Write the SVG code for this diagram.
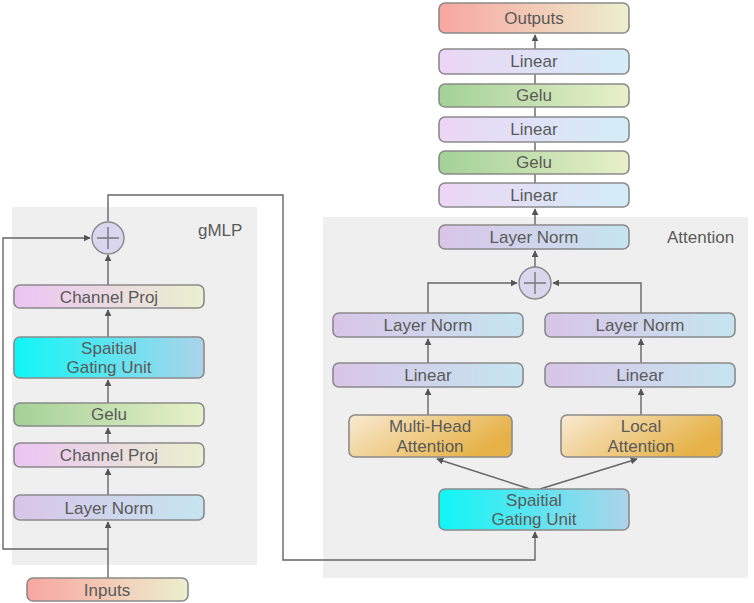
<svg xmlns="http://www.w3.org/2000/svg" width="754" height="603" viewBox="0 0 754 603">
<defs>
<linearGradient id="gCP" x1="0" y1="0" x2="1" y2="0"><stop offset="0" stop-color="#ebc4f3"/><stop offset="1" stop-color="#eaf0cf"/></linearGradient>
<linearGradient id="gGelu" x1="0" y1="0" x2="1" y2="0"><stop offset="0" stop-color="#a3d197"/><stop offset="1" stop-color="#e8f0c9"/></linearGradient>
<linearGradient id="gLN" x1="0" y1="0" x2="1" y2="0"><stop offset="0" stop-color="#d9c5e7"/><stop offset="1" stop-color="#c5e5f0"/></linearGradient>
<linearGradient id="gLin" x1="0" y1="0" x2="1" y2="0"><stop offset="0" stop-color="#ecd6f5"/><stop offset="1" stop-color="#d3edf8"/></linearGradient>
<linearGradient id="gSGU" x1="0" y1="0" x2="1" y2="0"><stop offset="0" stop-color="#0ff6f6"/><stop offset="1" stop-color="#acd3ea"/></linearGradient>
<linearGradient id="gIO" x1="0" y1="0" x2="1" y2="0"><stop offset="0" stop-color="#f8a6a0"/><stop offset="1" stop-color="#ecefcd"/></linearGradient>
<linearGradient id="gAtt" x1="0" y1="0" x2="1" y2="0.4"><stop offset="0" stop-color="#f9ead2"/><stop offset="1" stop-color="#e6b247"/></linearGradient>
<marker id="arr" viewBox="0 0 10 10" refX="9" refY="5" markerWidth="7" markerHeight="7" orient="auto-start-reverse" markerUnits="userSpaceOnUse"><path d="M0,0 L10,5 L0,10 z" fill="#555"/></marker>
</defs>
<style>
.panel{fill:#efefef;}
.box{stroke:#8a8a8a;stroke-width:1.6;}
.t{font-family:"Liberation Sans",Arial,sans-serif;font-size:17px;fill:#5a5a5a;text-anchor:middle;}
.lbl{font-family:"Liberation Sans",Arial,sans-serif;font-size:17px;fill:#5a5a5a;}
.c{fill:none;stroke:#666;stroke-width:1.4;}
.sum{fill:#d9d6ee;stroke:#888;stroke-width:1.4;}
.plus{stroke:#777;stroke-width:1.4;fill:none;}
</style>
<rect class="panel" x="12" y="207" width="245" height="358"/>
<rect class="panel" x="323" y="217" width="425" height="361"/>
<text class="lbl" x="198" y="236">gMLP</text>
<text class="lbl" x="667" y="243">Attention</text>

<g id="connectors">
<path class="c" d="M108,578 V522" marker-end="url(#arr)"/>
<path class="c" d="M108,495 V469" marker-end="url(#arr)"/>
<path class="c" d="M108,443 V428" marker-end="url(#arr)"/>
<path class="c" d="M108,403 V380" marker-end="url(#arr)"/>
<path class="c" d="M108,337 V310" marker-end="url(#arr)"/>
<path class="c" d="M108,285 V255" marker-end="url(#arr)"/>
<path class="c" d="M108,549 H3 V238 H90" marker-end="url(#arr)"/>
<path class="c" d="M108,221 V195 H283 V560 H535 V532" marker-end="url(#arr)"/>
<path class="c" d="M530,489 L437,459" marker-end="url(#arr)"/>
<path class="c" d="M540,489 L637,459" marker-end="url(#arr)"/>
<path class="c" d="M428,415 V389" marker-end="url(#arr)"/>
<path class="c" d="M641,415 V389" marker-end="url(#arr)"/>
<path class="c" d="M428,363 V339" marker-end="url(#arr)"/>
<path class="c" d="M641,363 V339" marker-end="url(#arr)"/>
<path class="c" d="M428,313 V283 H517" marker-end="url(#arr)"/>
<path class="c" d="M641,313 V283 H553" marker-end="url(#arr)"/>
<path class="c" d="M535,267 V251" marker-end="url(#arr)"/>
<path class="c" d="M535,226 V209" marker-end="url(#arr)"/>
<path class="c" d="M535,183 V174"/>
<path class="c" d="M535,151 V142"/>
<path class="c" d="M535,117 V107"/>
<path class="c" d="M535,84 V74"/>
<path class="c" d="M535,49 V35" marker-end="url(#arr)"/>
</g>

<g id="inputs"><rect class="box" x="27" y="578" width="161" height="23" rx="6" fill="url(#gIO)"/><text class="t" x="107" y="596">Inputs</text></g>
<g id="gmlp-layernorm"><rect class="box" x="14" y="495" width="190" height="25" rx="6" fill="url(#gLN)"/><text class="t" x="109" y="514">Layer Norm</text></g>
<g id="gmlp-channelproj1"><rect class="box" x="14" y="443" width="190" height="24" rx="6" fill="url(#gCP)"/><text class="t" x="109" y="461">Channel Proj</text></g>
<g id="gmlp-gelu"><rect class="box" x="14" y="403" width="190" height="23" rx="6" fill="url(#gGelu)"/><text class="t" x="109" y="420">Gelu</text></g>
<g id="gmlp-sgu"><rect class="box" x="14" y="337" width="190" height="41" rx="6" fill="url(#gSGU)"/><text class="t" x="109" y="354">Spaitial</text><text class="t" x="109" y="373">Gating Unit</text></g>
<g id="gmlp-channelproj2"><rect class="box" x="14" y="285" width="190" height="23" rx="6" fill="url(#gCP)"/><text class="t" x="109" y="303">Channel Proj</text></g>
<g id="gmlp-sum"><circle class="sum" cx="108" cy="238" r="16"/><path class="plus" d="M97,238 H119 M108,227 V249"/></g>

<g id="att-sgu"><rect class="box" x="439" y="489" width="190" height="41" rx="6" fill="url(#gSGU)"/><text class="t" x="534" y="506">Spaitial</text><text class="t" x="534" y="525">Gating Unit</text></g>
<g id="att-mha"><rect class="box" x="349" y="415" width="163" height="42" rx="6" fill="url(#gAtt)"/><text class="t" x="430" y="432">Multi-Head</text><text class="t" x="430" y="452">Attention</text></g>
<g id="att-local"><rect class="box" x="561" y="415" width="161" height="42" rx="6" fill="url(#gAtt)"/><text class="t" x="641" y="432">Local</text><text class="t" x="641" y="452">Attention</text></g>
<g id="att-linear-l"><rect class="box" x="333" y="363" width="190" height="24" rx="6" fill="url(#gLN)"/><text class="t" x="428" y="381">Linear</text></g>
<g id="att-linear-r"><rect class="box" x="545" y="363" width="190" height="24" rx="6" fill="url(#gLN)"/><text class="t" x="640" y="381">Linear</text></g>
<g id="att-ln-l"><rect class="box" x="333" y="313" width="190" height="24" rx="6" fill="url(#gLN)"/><text class="t" x="428" y="331">Layer Norm</text></g>
<g id="att-ln-r"><rect class="box" x="545" y="313" width="190" height="24" rx="6" fill="url(#gLN)"/><text class="t" x="640" y="331">Layer Norm</text></g>
<g id="att-sum"><circle class="sum" cx="535" cy="283" r="16"/><path class="plus" d="M524,283 H546 M535,272 V294"/></g>
<g id="att-ln-top"><rect class="box" x="439" y="225" width="190" height="24" rx="6" fill="url(#gLN)"/><text class="t" x="534" y="243">Layer Norm</text></g>

<g id="head-linear1"><rect class="box" x="439" y="183" width="190" height="24" rx="6" fill="url(#gLin)"/><text class="t" x="534" y="201">Linear</text></g>
<g id="head-gelu1"><rect class="box" x="439" y="151" width="190" height="23" rx="6" fill="url(#gGelu)"/><text class="t" x="534" y="168">Gelu</text></g>
<g id="head-linear2"><rect class="box" x="439" y="117" width="190" height="25" rx="6" fill="url(#gLin)"/><text class="t" x="534" y="135">Linear</text></g>
<g id="head-gelu2"><rect class="box" x="439" y="84" width="190" height="23" rx="6" fill="url(#gGelu)"/><text class="t" x="534" y="101">Gelu</text></g>
<g id="head-linear3"><rect class="box" x="439" y="49" width="190" height="25" rx="6" fill="url(#gLin)"/><text class="t" x="534" y="67">Linear</text></g>
<g id="outputs"><rect class="box" x="439" y="3" width="190" height="30" rx="6" fill="url(#gIO)"/><text class="t" x="534" y="24">Outputs</text></g>
</svg>
